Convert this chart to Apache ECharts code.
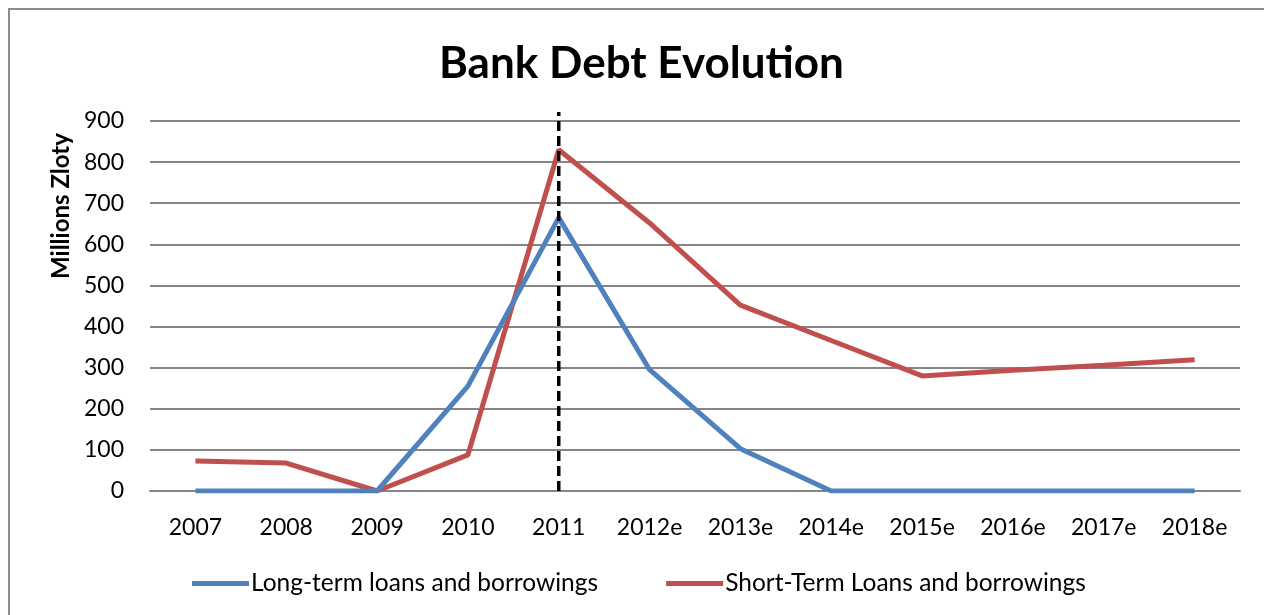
<!DOCTYPE html>
<html>
<head>
<meta charset="utf-8">
<script src="https://cdn.jsdelivr.net/npm/echarts@6/dist/echarts.min.js"></script>
<style>
  html, body { margin: 0; padding: 0; width: 1264px; height: 615px; overflow: hidden; background: #fff; }
  #frame { position: absolute; left: 8px; top: 8px; width: 1400px; height: 800px; border: 2px solid #8c8c8c; box-sizing: border-box; }
  #chart { position: absolute; left: 0; top: 0; width: 1264px; height: 615px; }
</style>
</head>
<body>
<div id="frame"></div>
<div id="chart"></div>
<script>
// Years on the horizontal axis ("e" = estimate)
const years = ['2007', '2008', '2009', '2010', '2011', '2012e', '2013e', '2014e', '2015e', '2016e', '2017e', '2018e'];
// Debt values in millions of zloty
const longTerm = [0, 0, 0, 255, 665, 295, 103, 0, 0, 0, 0, 0];
const shortTerm = [73, 68, 0, 88, 830, 652, 452, 366, 280, 294, 306, 319];
// Year marked with the vertical dashed line, and the value range it spans
const markerYear = '2011';
const markerRange = [0, 922];

const font = 'Lato, "Open Sans", sans-serif';

const chart = echarts.init(document.getElementById('chart'), null, { renderer: 'canvas' });
chart.setOption({
  animation: false,
  backgroundColor: 'transparent',
  title: {
    text: 'Bank Debt Evolution',
    left: 434,
    top: 37,
    textStyle: { fontFamily: font, fontWeight: 'bold', fontSize: 44, color: '#000' }
  },
  grid: { left: 150, right: 24, top: 121, bottom: 124, containLabel: false },
  legend: {
    bottom: 14,
    left: 187,
    icon: 'rect',
    itemWidth: 57,
    itemHeight: 5,
    itemGap: 68,
    textStyle: { fontFamily: font, fontSize: 24.5, color: '#000', padding: [0, 0, 0, -3] },
    data: ['Long-term loans and borrowings', 'Short-Term Loans and borrowings']
  },
  xAxis: {
    type: 'category',
    data: years,
    boundaryGap: true,
    axisLine: { lineStyle: { color: '#868686', width: 2 } },
    axisTick: { show: false },
    axisLabel: { fontFamily: font, fontSize: 23, color: '#000', margin: 25 }
  },
  yAxis: {
    type: 'value',
    min: 0,
    max: 900,
    interval: 100,
    name: 'Millions Zloty',
    nameLocation: 'middle',
    nameRotate: 90,
    nameGap: 77,
    nameTextStyle: { fontFamily: font, fontWeight: 'bold', fontSize: 24, color: '#000', padding: [0, 0, 0, 200] },
    axisLine: { show: false },
    axisTick: { show: false },
    splitLine: { lineStyle: { color: '#868686', width: 2 } },
    axisLabel: { fontFamily: font, fontSize: 23, color: '#000', margin: 26 }
  },
  series: [
    {
      name: 'Long-term loans and borrowings',
      type: 'line',
      data: longTerm,
      symbol: 'none',
      lineStyle: { color: '#4F81BD', width: 5 },
      itemStyle: { color: '#4F81BD' },
      z: 3
    },
    {
      name: 'Short-Term Loans and borrowings',
      type: 'line',
      data: shortTerm,
      symbol: 'none',
      lineStyle: { color: '#C0504D', width: 5 },
      itemStyle: { color: '#C0504D' },
      z: 2
    },
    {
      // vertical dashed marker, reaching slightly above the plot area
      name: 'marker',
      type: 'line',
      data: markerRange.map(v => [markerYear, v]),
      symbol: 'none',
      clip: false,
      silent: true,
      lineStyle: { color: '#000', type: [10, 5], width: 3.5 },
      z: 5
    }
  ]
});
</script>
</body>
</html>
